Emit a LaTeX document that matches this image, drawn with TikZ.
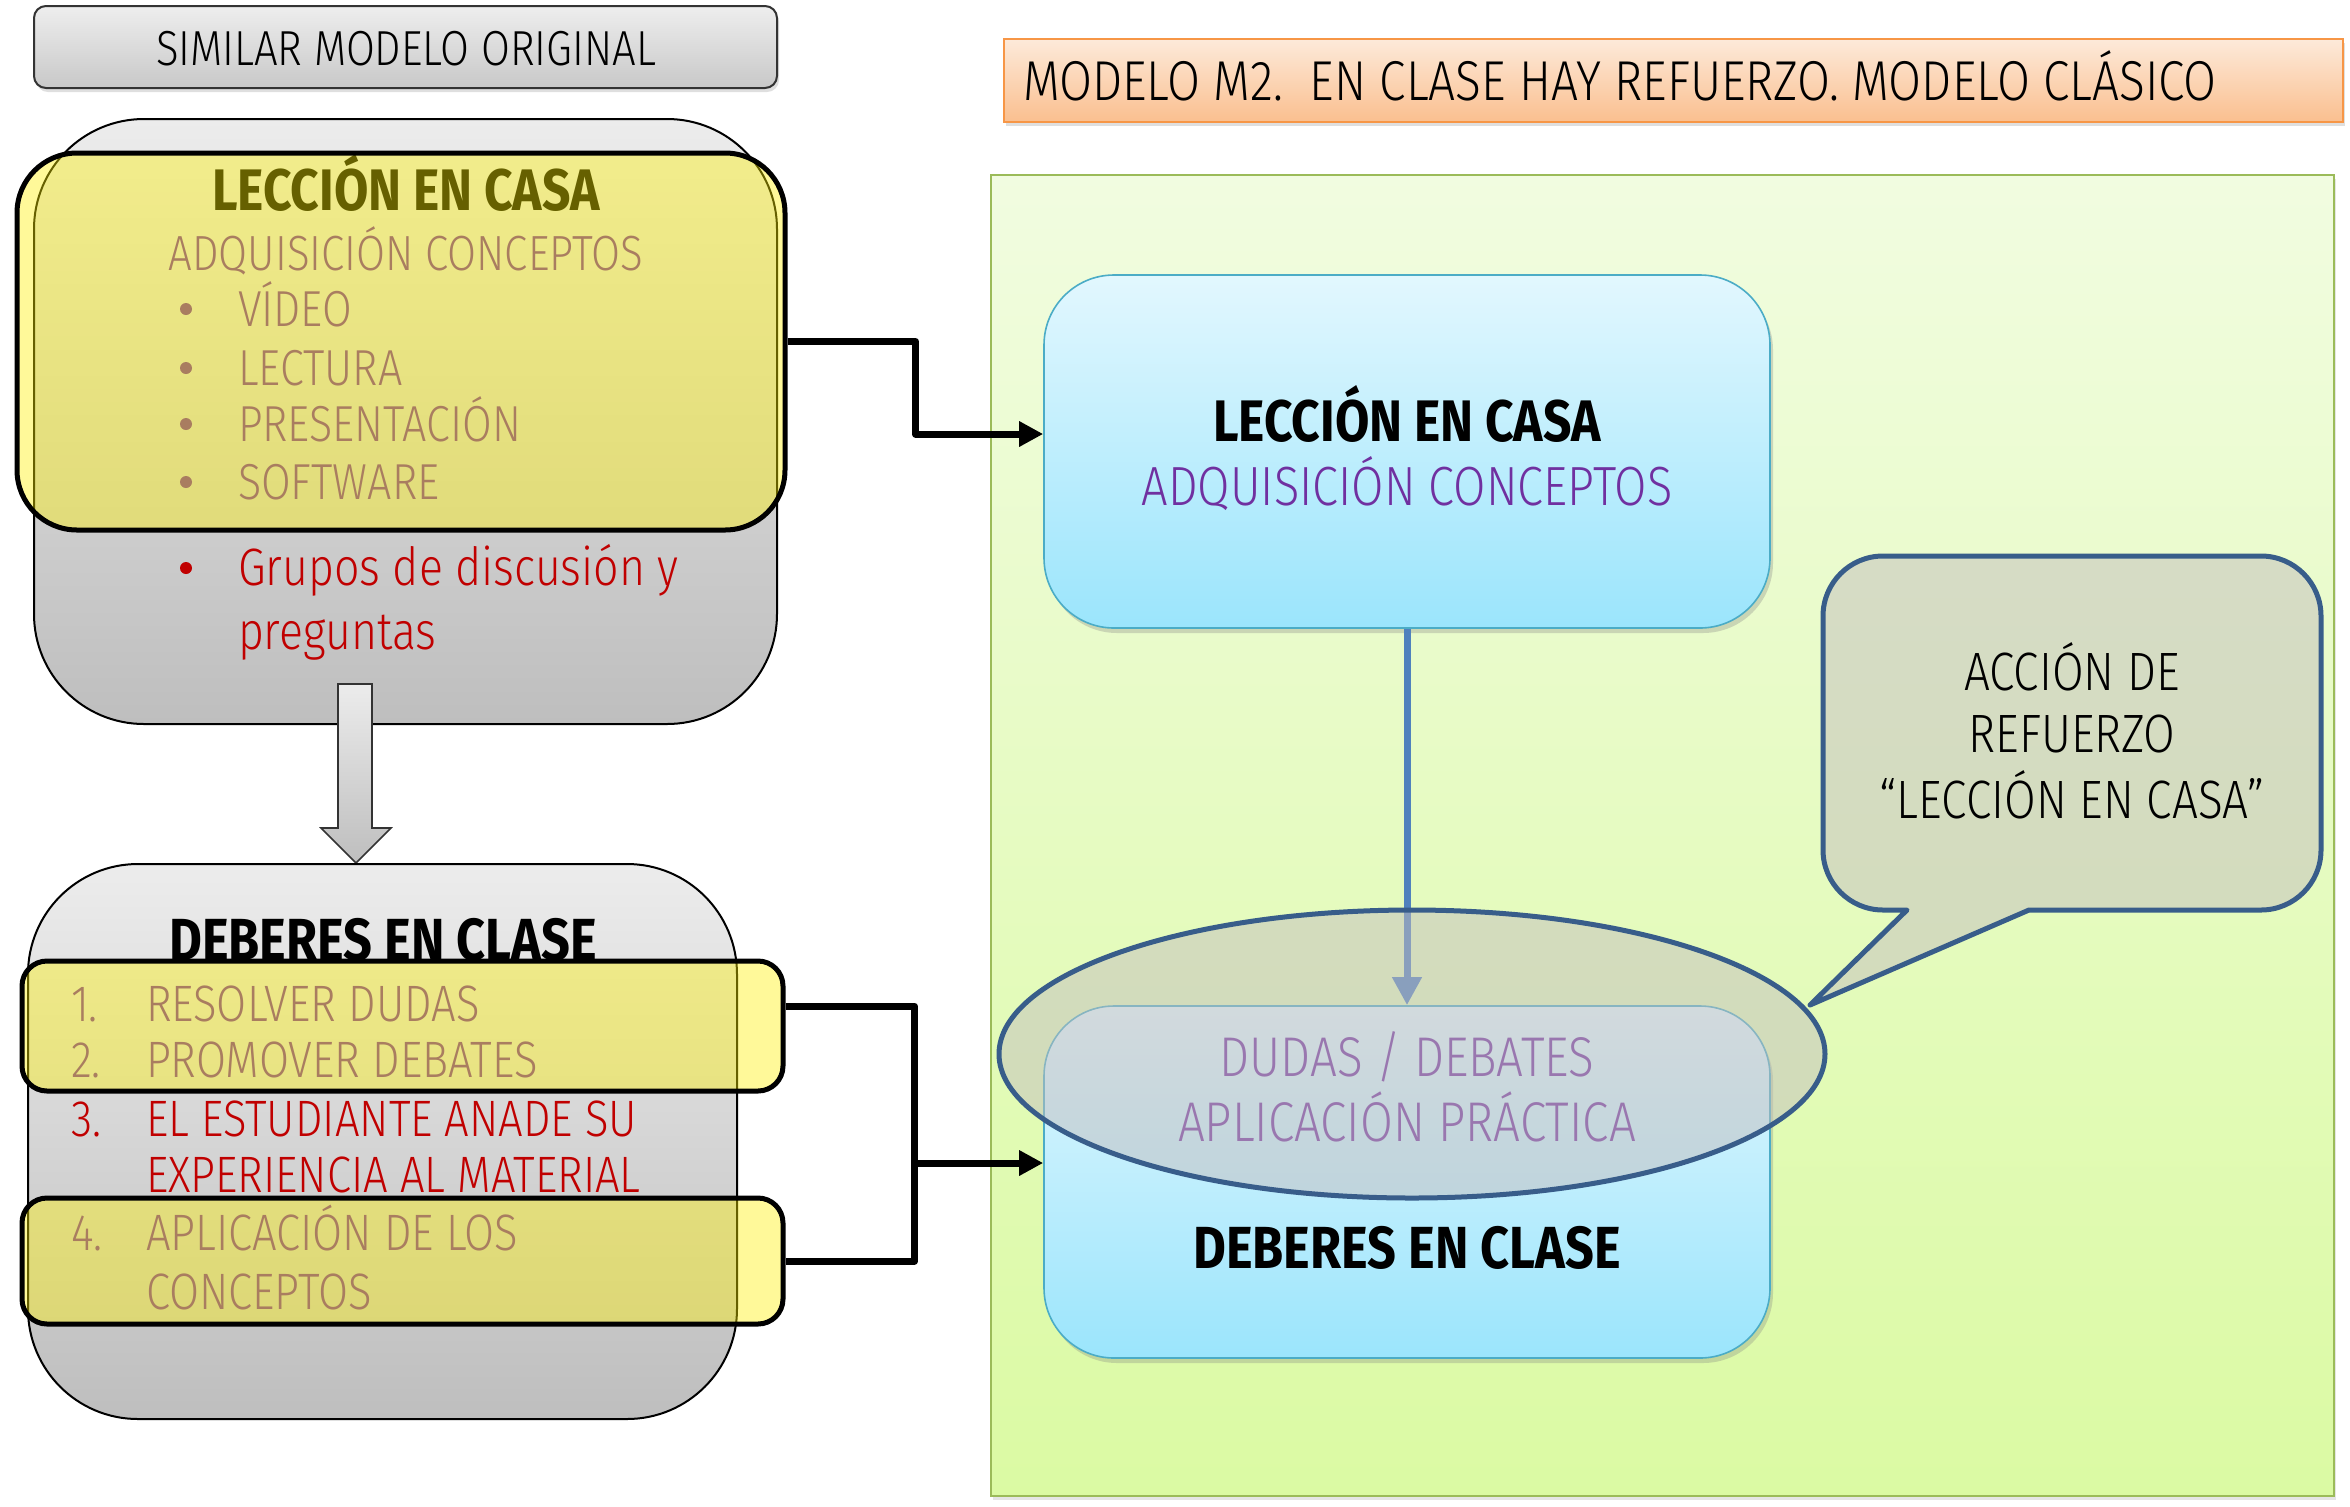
\documentclass[tikz,border=0pt]{standalone}
\usepackage{fontspec}
\setmainfont{Fira Sans Light}[BoldFont={Fira Sans Bold}, FakeStretch=0.85]
\usetikzlibrary{calc,shadows,arrows.meta,shapes.geometric}
\definecolor{hdrTop}{RGB}{238,238,238}
\definecolor{hdrBot}{RGB}{200,200,200}
\definecolor{orTop}{RGB}{253,234,218}
\definecolor{orBot}{RGB}{250,191,143}
\definecolor{orBd}{RGB}{247,150,70}
\definecolor{grTop}{RGB}{241,252,224}
\definecolor{grBot}{RGB}{219,250,163}
\definecolor{grBd}{RGB}{155,187,89}
\definecolor{gyTop}{RGB}{236,236,236}
\definecolor{gyBot}{RGB}{190,190,190}
\definecolor{blTop}{RGB}{226,247,254}
\definecolor{blBot}{RGB}{155,229,252}
\definecolor{blBd}{RGB}{75,172,198}
\definecolor{purp}{RGB}{112,48,160}
\definecolor{rojo}{RGB}{192,0,0}
\definecolor{elFill}{RGB}{195,190,190}
\definecolor{elBd}{RGB}{56,93,138}
\definecolor{blArr}{RGB}{79,129,189}
\newcommand\fsz[1]{\fontsize{#1}{#1}\selectfont}
\begin{document}
\begin{tikzpicture}[x=0.5pt,y=-0.5pt,
  txt/.style={inner sep=0pt, outer sep=0pt},
  dot/.style={circle, inner sep=0pt, minimum size=6pt},
  hdrbox/.style={draw=black!80, line width=1pt, rounded corners=6pt, top color=hdrTop, bottom color=hdrBot, inner sep=0pt,
    drop shadow={shadow xshift=1pt, shadow yshift=-2pt, opacity=0.25}},
  orbox/.style={draw=orBd, line width=1.2pt, top color=orTop, bottom color=orBot, inner sep=0pt,
    drop shadow={shadow xshift=1pt, shadow yshift=-2pt, opacity=0.25}},
  grbox/.style={draw=grBd, line width=0.8pt, top color=grTop, bottom color=grBot, inner sep=0pt,
    drop shadow={shadow xshift=1pt, shadow yshift=-2pt, opacity=0.2}},
  gybox/.style={draw=black, line width=1pt, rounded corners=55pt, top color=gyTop, bottom color=gyBot, inner sep=0pt},
  yelbox/.style={draw=black, line width=2.5pt, fill=yellow, fill opacity=0.4, draw opacity=1, inner sep=0pt},
  blbox/.style={draw=blBd, line width=0.8pt, rounded corners=35pt, top color=blTop, bottom color=blBot, inner sep=0pt,
    drop shadow={shadow xshift=1.5pt, shadow yshift=-2.5pt, opacity=0.3}},
  conn/.style={line width=3.5pt, line join=round, black},
  arr/.style={-{Triangle[length=12pt,width=12pt]}},
  overlay2/.style={fill=elFill, fill opacity=0.5, draw=elBd, draw opacity=1, line width=2.5pt}
]
\useasboundingbox (0,0) rectangle (2350,1506);
\fill[white] (0,0) rectangle (2350,1506);

% header boxes
\node[hdrbox, minimum width=371.5pt, minimum height=41pt] (hdr) at (405.5,47) {};
\node[txt, anchor=base] (hdrT) at (406,65) {\fsz{24.6}SIMILAR MODELO ORIGINAL};
\node[orbox, minimum width=669.5pt, minimum height=41.5pt] (orng) at (1673.5,80.5) {};
\node[txt, anchor=base west] (orT) at (1023,100) {\fsz{28.1}MODELO M2.\ \ EN CLASE HAY REFUERZO. MODELO CLÁSICO};

% green panel
\node[grbox, minimum width=671.5pt, minimum height=660.5pt] (green) at (1662.5,835.5) {};

% left top block
\node[gybox, minimum width=371.5pt, minimum height=302.5pt] (gray1) at (405.5,421.5) {};
\node[txt, anchor=base] (t1) at (406,210) {\fsz{29.3}\bfseries LECCIÓN EN CASA};
\node[txt, anchor=base, text=purp] (t2) at (406,270) {\fsz{24.7}ADQUISICIÓN CONCEPTOS};
\foreach \yy/\tt [count=\i] in {326/VÍDEO, 385/LECTURA, 441/PRESENTACIÓN, 499/SOFTWARE}{
  \node[dot, fill=purp] (bu\i) at (186,\yy-17) {};
  \node[txt, anchor=base west, text=purp] (it\i) at (238,\yy) {\fsz{25.3}\tt};
}
\node[yelbox, rounded corners=30pt, minimum width=384pt, minimum height=188.5pt] (yel1) at (401,341.5) {};
\node[dot, fill=rojo] (bu5) at (186,568) {};
\node[txt, anchor=base west, text=rojo] (g1) at (238,585) {\fsz{26.3}Grupos de discusión y};
\node[txt, anchor=base west, text=rojo] (g2) at (238,649) {\fsz{26.3}preguntas};

% block arrow down
\draw[black!80, line width=0.8pt, top color=gyTop, bottom color=gyBot]
  (338,684) -- (372,684) -- (372,828) -- (391,828) -- (356,863) -- (321,828) -- (338,828) -- cycle;

% left bottom block
\node[gybox, minimum width=354.5pt, minimum height=277.5pt] (gray2) at (382.5,1141.5) {};
\node[txt, anchor=base] (d0) at (383,960) {\fsz{29.7}\bfseries DEBERES EN CLASE};
\foreach \yy/\nn/\tt/\cc [count=\i] in {1021/1./RESOLVER DUDAS/purp, 1077/2./PROMOVER DEBATES/purp, 1136/3./EL ESTUDIANTE ANADE SU/rojo, 1192//EXPERIENCIA AL MATERIAL/rojo, 1250/4./APLICACIÓN DE LOS/purp, 1309//CONCEPTOS/purp}{
  \node[txt, anchor=base west, text=\cc] (n\i) at (71,\yy) {\fsz{25.6}\nn};
  \node[txt, anchor=base west, text=\cc] (l\i) at (146,\yy) {\fsz{25.6}\tt};
}
\node[yelbox, rounded corners=12.5pt, minimum width=380.5pt, minimum height=65pt] (yb1) at (402.5,1026) {};
\node[yelbox, rounded corners=12.5pt, minimum width=380.5pt, minimum height=63pt] (yb2) at (402.5,1261) {};

% blue boxes
\node[blbox, minimum width=363pt, minimum height=176.5pt] (blue1) at (1407,451.5) {};
\node[txt, anchor=base] (b1t) at (1407,441) {\fsz{29.3}\bfseries LECCIÓN EN CASA};
\node[txt, anchor=base, text=purp] (b1s) at (1407,505) {\fsz{27.6}ADQUISICIÓN CONCEPTOS};
\node[blbox, minimum width=363pt, minimum height=176pt] (blue2) at (1407,1182) {};
\node[txt, anchor=base, text=purp] (b2a) at (1407,1076) {\fsz{28}DUDAS / DEBATES};
\node[txt, anchor=base, text=purp] (b2b) at (1407,1141) {\fsz{28}APLICACIÓN PRÁCTICA};
\node[txt, anchor=base] (b2t) at (1407,1268) {\fsz{29.7}\bfseries DEBERES EN CLASE};

% connectors
\draw[conn, arr] (yel1.east) -- ++(128,0) |- ($(blue1.west)+(0,-17.5)$);
\draw[conn] ($(yb1.east)+(0,-20)$) -- ++(129,0) |- (yb2.east);
\coordinate (junc) at ($(yb1.east)+(129,137)$);
\draw[conn, arr] (junc) -- ($(blue2.west)+(0,-19)$);
\draw[blArr, line width=3.5pt, -{Triangle[length=14pt,width=14pt]}] (blue1.south) -- (blue2.north);

% ellipse overlay
\node[overlay2, ellipse, minimum width=413pt, minimum height=144pt, inner sep=0pt] (elli) at (1412,1054) {};

% callout
\draw[overlay2, line join=round]
  (2029,910) -- (2261,910) arc[start angle=270, end angle=360, radius=30pt]
  -- (2321,616) arc[start angle=0, end angle=90, radius=30pt]
  -- (1883,556) arc[start angle=90, end angle=180, radius=30pt]
  -- (1823,850) arc[start angle=180, end angle=270, radius=30pt]
  -- (1907,910) -- (1810,1005) -- cycle;
\node[txt, anchor=base] (c1) at (2072,690) {\fsz{27}ACCIÓN DE};
\node[txt, anchor=base] (c2) at (2072,752) {\fsz{27}REFUERZO};
\node[txt, anchor=base] (c3) at (2072,818) {\fsz{27}“LECCIÓN EN CASA”};
\end{tikzpicture}
\end{document}
